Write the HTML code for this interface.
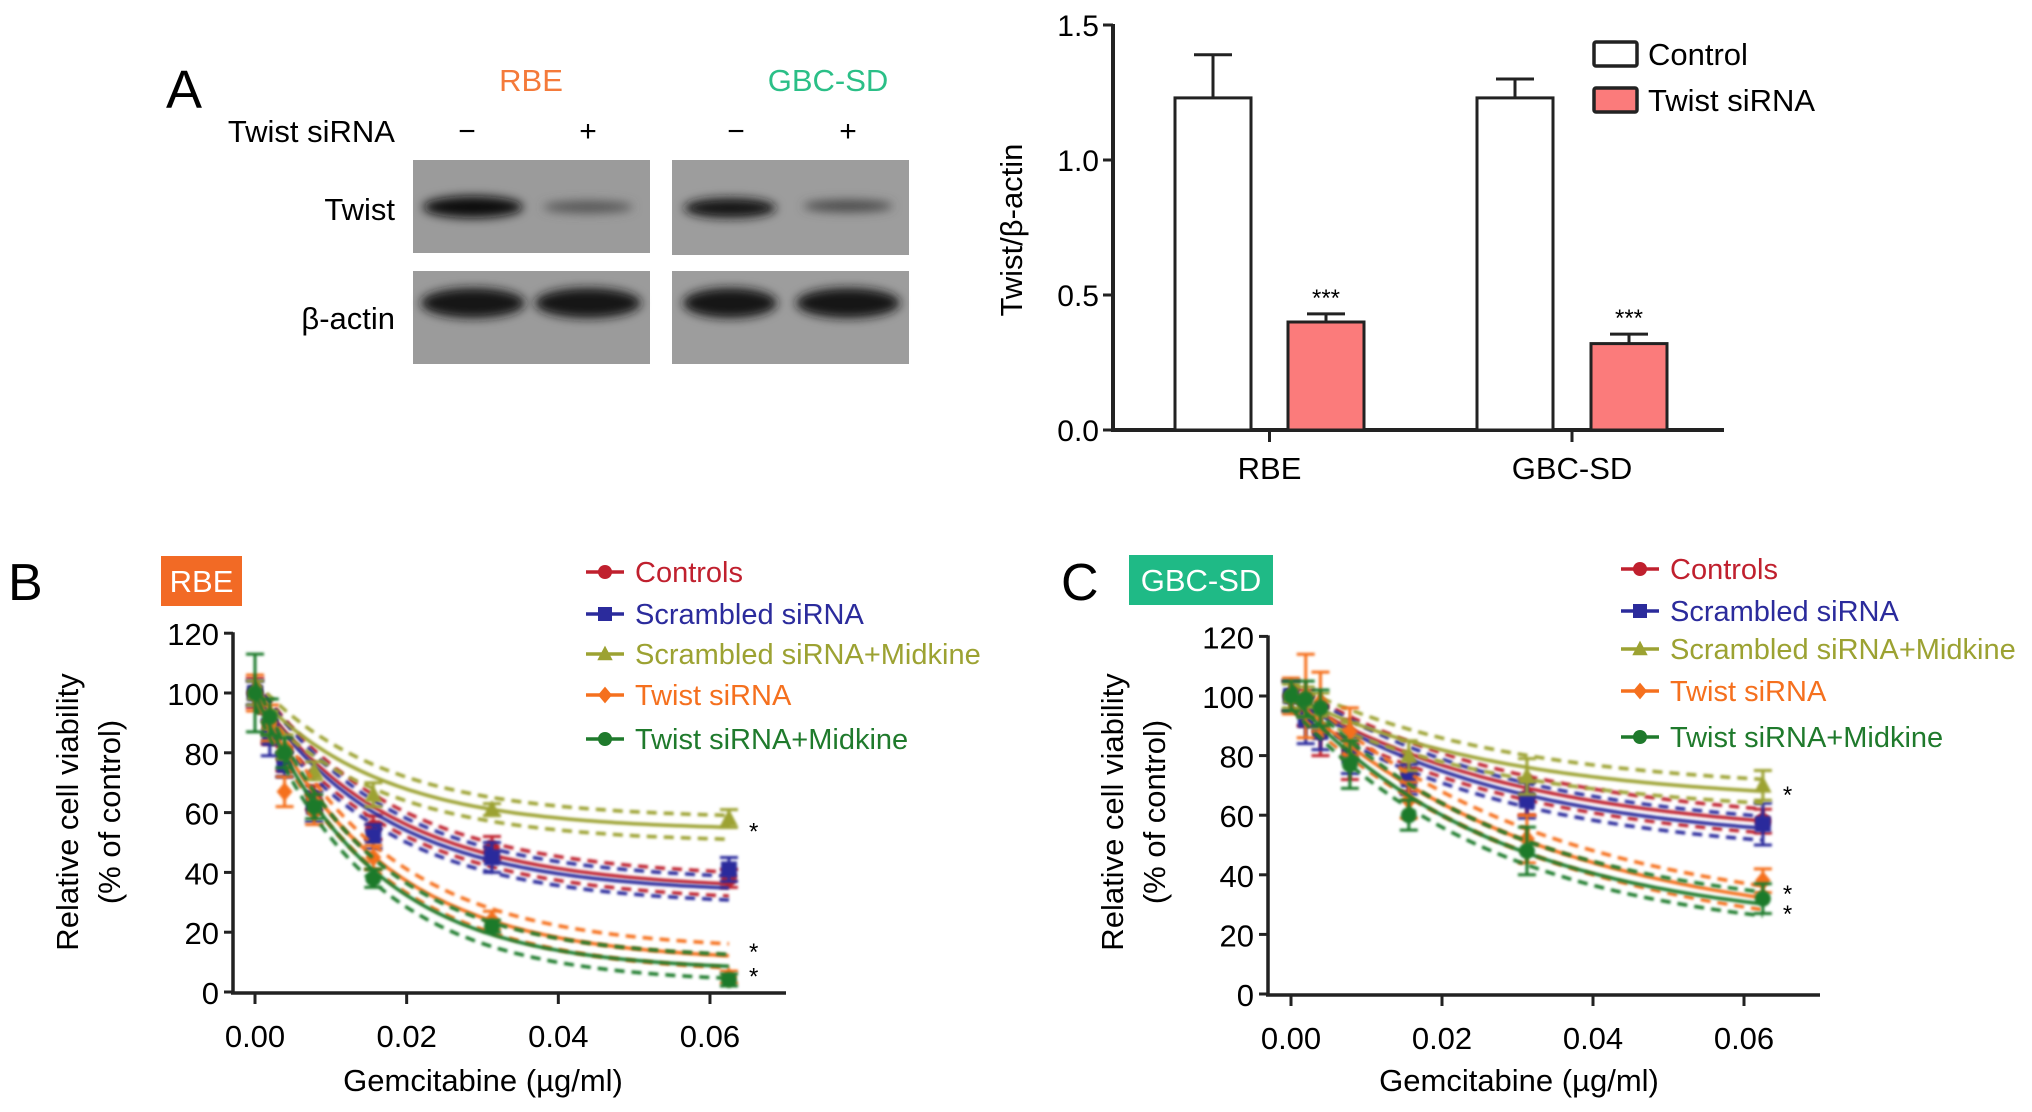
<!DOCTYPE html>
<html><head><meta charset="utf-8">
<style>
html,body{margin:0;padding:0;background:#fff;}
svg{display:block;font-family:"Liberation Sans",Arial,sans-serif;}
</style></head>
<body>
<svg id="fig" width="2032" height="1112" viewBox="0 0 2032 1112" xmlns="http://www.w3.org/2000/svg">
<defs>
<filter id="blur" x="-20%" y="-50%" width="140%" height="200%"><feGaussianBlur stdDeviation="5"/></filter>
<filter id="blur2" x="-5%" y="-5%" width="110%" height="110%"><feGaussianBlur stdDeviation="1.2"/></filter>
</defs>
<g>
<text x="166" y="108" font-size="54" fill="#000">A</text>
<text x="531" y="91" font-size="31" fill="#f47a3a" text-anchor="middle">RBE</text>
<text x="828" y="91" font-size="31" fill="#2bbf87" text-anchor="middle">GBC-SD</text>
<text x="395" y="142" font-size="31" text-anchor="end">Twist siRNA</text>
<text x="467" y="141" font-size="30" text-anchor="middle">−</text>
<text x="588" y="141" font-size="30" text-anchor="middle">+</text>
<text x="736" y="141" font-size="30" text-anchor="middle">−</text>
<text x="848" y="141" font-size="30" text-anchor="middle">+</text>
<text x="395" y="220" font-size="31" text-anchor="end">Twist</text>
<text x="395" y="329" font-size="31" text-anchor="end">β-actin</text>
<rect x="413" y="160" width="237" height="93" fill="#9b9b9b"/>
<rect x="672" y="160" width="237" height="95" fill="#9d9d9d"/>
<rect x="413" y="271" width="237" height="93" fill="#9b9b9b"/>
<rect x="672" y="271" width="237" height="93" fill="#9d9d9d"/>
<g filter="url(#blur)">
<ellipse cx="473" cy="207" rx="50" ry="11" fill="#111"/>
<ellipse cx="588" cy="207" rx="45" ry="6" fill="#555"/>
<ellipse cx="730" cy="208" rx="46" ry="10" fill="#151515"/>
<ellipse cx="848" cy="206" rx="45" ry="6" fill="#4a4a4a"/>
<ellipse cx="473" cy="303" rx="52" ry="15" fill="#161616"/>
<ellipse cx="588" cy="303" rx="53" ry="15" fill="#181818"/>
<ellipse cx="730" cy="303" rx="47" ry="15" fill="#161616"/>
<ellipse cx="848" cy="303" rx="52" ry="15" fill="#161616"/>
</g>
</g>
<g id="barChart"></g>
<g id="panelB"></g>
<g id="panelC"></g>
</svg>
<script>
// ---- Bar chart data ----
const barCategories = ["RBE", "GBC-SD"];
const barControl = [1.23, 1.23];
const barControlErr = [0.16, 0.07];
const barSirna = [0.40, 0.32];
const barSirnaErr = [0.03, 0.035];
const barTicks = [0.0, 0.5, 1.0, 1.5];
const barTickLabels = ["0.0", "0.5", "1.0", "1.5"];

// ---- Viability data ----
const doses = [0, 0.00195, 0.0039, 0.0078, 0.0156, 0.03125, 0.0625];
const seriesNames = ["Controls", "Scrambled siRNA", "Scrambled siRNA+Midkine", "Twist siRNA", "Twist siRNA+Midkine"];
const rbeControls = [100, 88, 78, 65, 55, 48, 38];
const rbeScrambled = [100, 85, 76, 62, 52, 45, 41];
const rbeScrMidkine = [100, 90, 82, 74, 66, 61, 58];
const rbeTwist = [100, 90, 67, 60, 45, 24, 5];
const rbeTwistMidkine = [100, 92, 80, 62, 38, 22, 4];
const rbeErr = [[5,5,4,4,4,4,3],[4,6,4,5,4,5,4],[4,4,4,3,4,2,3],[6,6,5,4,4,3,2],[13,6,5,4,3,2,2]];
const rbeFitBottom = [34, 33, 54, 10, 7];
const rbeFitK = [55, 58, 60, 60, 65];
const gbcControls = [100, 96, 88, 82, 74, 66, 58];
const gbcScrambled = [100, 92, 88, 80, 72, 65, 57];
const gbcScrMidkine = [100, 98, 95, 85, 80, 73, 70];
const gbcTwist = [100, 100, 98, 88, 65, 52, 38];
const gbcTwistMidkine = [100, 99, 96, 77, 60, 48, 32];
const gbcErr = [[5,6,8,10,6,6,4],[5,8,6,6,5,6,7],[4,5,6,6,5,6,5],[6,14,10,8,6,8,4],[5,6,6,8,5,8,5]];
const gbcFitBottom = [52, 50, 64, 20, 22];
const gbcFitK = [33, 35, 35, 30, 36];
const xTicks = [0, 0.02, 0.04, 0.06];
const xTickLabels = ["0.00", "0.02", "0.04", "0.06"];
const yTicks = [0, 20, 40, 60, 80, 100, 120];
const colors = ["#c0202e", "#2b2b9c", "#9ca232", "#f5701e", "#1f7a2c"];
const markers = ["circle", "square", "triangle", "diamond", "circle"];

const NS = "http://www.w3.org/2000/svg";
function mk(parent, tag, attrs, text) {
  const e = document.createElementNS(NS, tag);
  for (const k in attrs) e.setAttribute(k, attrs[k]);
  if (text !== undefined) e.textContent = text;
  parent.appendChild(e);
  return e;
}

(function () {
  const g = document.getElementById("barChart");
  const axisX = 1113, y0 = 430, per = 270;
  const yS = v => y0 - v * per;
  const ctrlX = [1175, 1477], sirX = [1288, 1591], bw = 76;
  let e = mk(g, "line", {x1: axisX, y1: yS(1.5) - 1, x2: axisX, y2: y0 + 2, stroke: "#222", "stroke-width": 4});
   
  e = mk(g, "line", {x1: axisX - 2, y1: y0, x2: 1724, y2: y0, stroke: "#222", "stroke-width": 4});
   
  barTicks.forEach((t, i) => {
    mk(g, "line", {x1: axisX - 10, y1: yS(t), x2: axisX, y2: yS(t), stroke: "#222", "stroke-width": 3});
    const tx = mk(g, "text", {x: axisX - 14, y: yS(t) + 11, "font-size": 30, "text-anchor": "end"}, barTickLabels[i]);
     
  });
  const yl = mk(g, "text", {x: 0, y: 0, "font-size": 31, "text-anchor": "middle", transform: "translate(1022,230) rotate(-90)"}, "Twist/β-actin");
   
  barCategories.forEach((c, i) => {
    const cx = (ctrlX[i] + sirX[i] + bw) / 2;
    mk(g, "line", {x1: cx, y1: y0, x2: cx, y2: y0 + 12, stroke: "#222", "stroke-width": 3});
    const lt = mk(g, "text", {x: cx, y: 479, "font-size": 31, "text-anchor": "middle"}, c);
     
    [[ctrlX[i], barControl[i], barControlErr[i], "#fff", "bar-control"], [sirX[i], barSirna[i], barSirnaErr[i], "#fb7b7b", "bar-twist-sirna"]].forEach(b => {
      const mid = b[0] + bw / 2;
      mk(g, "line", {x1: mid, y1: yS(b[1]), x2: mid, y2: yS(b[1] + b[2]), stroke: "#222", "stroke-width": 3});
      mk(g, "line", {x1: mid - 19, y1: yS(b[1] + b[2]), x2: mid + 19, y2: yS(b[1] + b[2]), stroke: "#222", "stroke-width": 3});
      const r = mk(g, "rect", {x: b[0], y: yS(b[1]), width: bw, height: y0 - yS(b[1]), fill: b[3], stroke: "#222", "stroke-width": 3});
       
    });
    const st = mk(g, "text", {x: sirX[i] + bw / 2, y: yS(barSirna[i] + barSirnaErr[i]) - 8, "font-size": 24, "text-anchor": "middle"}, "***");
     
  });
  [["Control", "#fff", 42], ["Twist siRNA", "#fb7b7b", 88]].forEach(l => {
    const lg = mk(g, "g", {});
     
    mk(lg, "rect", {x: 1594, y: l[2], width: 43, height: 24, fill: l[1], stroke: "#222", "stroke-width": 3.5, rx: 2});
    mk(lg, "text", {x: 1648, y: l[2] + 23, "font-size": 31}, l[0]);
  });
})();

function drawPanel(gid, cfg, series, errs, fitB, fitK) {
  const g = document.getElementById(gid);
  const xS = v => cfg.xZero + v * cfg.xPer;
  const yS = v => cfg.yZero - v * cfg.yPer;
  let t = mk(g, "text", {x: cfg.letterX, y: cfg.letterY + 18, "font-size": 52}, cfg.letter);
   
  const bx = mk(g, "rect", {x: cfg.boxX, y: cfg.boxY, width: cfg.boxW, height: 50, fill: cfg.boxColor});
   
  t = mk(g, "text", {x: cfg.boxX + cfg.boxW / 2, y: cfg.boxY + 36, "font-size": 31, fill: "#fff", "text-anchor": "middle"}, cfg.title);
   
  let a = mk(g, "line", {x1: cfg.axisX, y1: yS(120) - 1, x2: cfg.axisX, y2: yS(0) + 2, stroke: "#222", "stroke-width": 3.5});
   
  a = mk(g, "line", {x1: cfg.axisX - 2, y1: yS(0) + 1, x2: cfg.axisEnd, y2: yS(0) + 1, stroke: "#222", "stroke-width": 3.5});
   
  yTicks.forEach(v => {
    mk(g, "line", {x1: cfg.axisX - 9, y1: yS(v), x2: cfg.axisX, y2: yS(v), stroke: "#222", "stroke-width": 3});
    const tl = mk(g, "text", {x: cfg.axisX - 14, y: yS(v) + 12, "font-size": 31, "text-anchor": "end"}, String(v));
     
  });
  xTicks.forEach((v, i) => {
    mk(g, "line", {x1: xS(v), y1: yS(0), x2: xS(v), y2: yS(0) + 12, stroke: "#222", "stroke-width": 3});
    const tl = mk(g, "text", {x: xS(v), y: yS(0) + 55, "font-size": 31, "text-anchor": "middle"}, xTickLabels[i]);
     
  });
  t = mk(g, "text", {x: cfg.xTitleX, y: 1091, "font-size": 31, "text-anchor": "middle"}, "Gemcitabine (µg/ml)");
   
  t = mk(g, "text", {x: 0, y: 0, "font-size": 31, "text-anchor": "middle", transform: "translate(" + (cfg.yTitleX + 10) + ",812) rotate(-90)"}, "Relative cell viability");
   
  t = mk(g, "text", {x: 0, y: 0, "font-size": 31, "text-anchor": "middle", transform: "translate(" + (cfg.yTitleX + 52) + ",812) rotate(-90)"}, "(% of control)");
   

  function marker(parent, kind, cx, cy, col, s) {
    if (kind === "circle") return mk(parent, "circle", {cx: cx, cy: cy, r: s, fill: col});
    if (kind === "square") return mk(parent, "rect", {x: cx - s, y: cy - s, width: 2 * s, height: 2 * s, fill: col});
    if (kind === "triangle") return mk(parent, "polygon", {points: (cx) + "," + (cy - s * 1.2) + " " + (cx - s * 1.1) + "," + (cy + s * 0.9) + " " + (cx + s * 1.1) + "," + (cy + s * 0.9), fill: col});
    return mk(parent, "polygon", {points: cx + "," + (cy - s * 1.2) + " " + (cx + s) + "," + cy + " " + cx + "," + (cy + s * 1.2) + " " + (cx - s) + "," + cy, fill: col});
  }
  const xmax = doses[doses.length - 1];
  series.forEach((vals, si) => {
    const col = colors[si];
    const sg = mk(g, "g", {filter: "url(#blur2)"});
    
    
    const fit = x => fitB[si] + (100 - fitB[si]) * Math.exp(-fitK[si] * x);
    [[0, "none"], [4, "10,7"], [-4, "10,7"]].forEach(o => {
      let d = "";
      for (let i = 0; i <= 80; i++) {
        const x = xmax * i / 80;
        d += (i ? "L" : "M") + xS(x).toFixed(1) + "," + yS(fit(x) + o[0]).toFixed(1);
      }
      const p = mk(sg, "path", {d: d, fill: "none", stroke: col, "stroke-width": 3.5, "stroke-dasharray": o[1]});
      
      
    });
    vals.forEach((v, i) => {
      const x = xS(doses[i]), e = errs[si][i];
      mk(sg, "path", {d: "M" + x + "," + yS(v - e) + "V" + yS(v + e) + "M" + (x - 9) + "," + yS(v + e) + "h18M" + (x - 9) + "," + yS(v - e) + "h18", stroke: col, "stroke-width": 3, fill: "none"});
      const m = marker(sg, markers[si], x, yS(v), col, 8);
       
    });
    if (si >= 2) {
      const off = si === 3 ? 4 : (si === 4 ? 18 : 12);
      const st = mk(g, "text", {x: xS(xmax) + 20, y: yS(fit(xmax)) + off, "font-size": 24}, "*");
       
    }
    const lg = mk(g, "g", {});
     
    const ly = cfg.legY[si];
    mk(lg, "line", {x1: cfg.legX, y1: ly, x2: cfg.legX + 38, y2: ly, stroke: col, "stroke-width": 3.5});
    marker(lg, markers[si], cfg.legX + 19, ly, col, 7);
    mk(lg, "text", {x: cfg.legX + 49, y: ly + 10, "font-size": 29, fill: col}, seriesNames[si]);
  });
}
drawPanel("panelB", {letter: "B", letterX: 8, letterY: 582, boxX: 161, boxY: 556, boxW: 81, boxColor: "#f26a25", title: "RBE",
  axisX: 233, axisEnd: 786, xZero: 255, xPer: 7583, yZero: 992, yPer: 2.99, xTitleX: 483, yTitleX: 68,
  legX: 586, legY: [572, 614, 654, 695, 739]},
  [rbeControls, rbeScrambled, rbeScrMidkine, rbeTwist, rbeTwistMidkine], rbeErr, rbeFitBottom, rbeFitK);
drawPanel("panelC", {letter: "C", letterX: 1061, letterY: 582, boxX: 1129, boxY: 555, boxW: 144, boxColor: "#1fba86", title: "GBC-SD",
  axisX: 1268, axisEnd: 1820, xZero: 1291, xPer: 7550, yZero: 994, yPer: 2.98, xTitleX: 1519, yTitleX: 1113,
  legX: 1621, legY: [569, 611, 649, 691, 737]},
  [gbcControls, gbcScrambled, gbcScrMidkine, gbcTwist, gbcTwistMidkine], gbcErr, gbcFitBottom, gbcFitK);
</script>
</body></html>
